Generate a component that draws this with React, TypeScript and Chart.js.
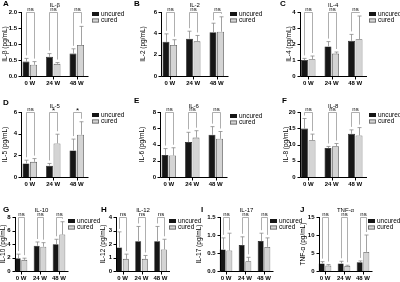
import React, { useEffect, useRef } from 'react';
import { Chart, registerables } from 'chart.js';

Chart.register(...registerables);

const FONT = '"Liberation Sans", Arial, sans-serif';

const weeks = ['0 W', '24 W', '48 W'];
const seriesNames = ['uncured', 'cured'];

// A IL-β
const ilbUncured = [0.45, 0.6, 0.7];
const ilbUncuredSd = [0.1, 0.1, 0.15];
const ilbCured = [0.35, 0.38, 0.97];
const ilbCuredSd = [0.1, 0.04, 0.58];
const ilbSig = ['ns', 'ns', 'ns'];
// B IL-2
const il2Uncured = [3.2, 3.5, 4.1];
const il2UncuredSd = [0.75, 0.7, 0.85];
const il2Cured = [2.9, 3.25, 4.15];
const il2CuredSd = [0.5, 0.55, 1.4];
const il2Sig = ['ns', 'ns', 'ns'];
// C IL-4
const il4Uncured = [1.0, 1.85, 2.2];
const il4UncuredSd = [0.1, 0.3, 0.4];
const il4Cured = [1.05, 1.4, 2.3];
const il4CuredSd = [0.2, 0.1, 1.45];
const il4Sig = ['ns', 'ns', 'ns'];
// D IL-5
const il5Uncured = [1.25, 1.05, 2.45];
const il5UncuredSd = [0.3, 0.2, 1.05];
const il5Cured = [1.4, 3.1, 3.9];
const il5CuredSd = [0.3, 0.85, 1.2];
const il5Sig = ['ns', '*', '*'];
// E IL-6
const il6Uncured = [2.7, 4.3, 5.2];
const il6UncuredSd = [0.8, 1.2, 1.0];
const il6Cured = [2.65, 4.85, 4.7];
const il6CuredSd = [0.95, 0.85, 0.9];
const il6Sig = ['ns', 'ns', 'ns'];
// F IL-8
const il8Uncured = [14.9, 8.9, 13.3];
const il8UncuredSd = [3.1, 0.5, 1.2];
const il8Cured = [11.3, 9.5, 12.8];
const il8CuredSd = [1.9, 0.8, 2.4];
const il8Sig = ['ns', 'ns', 'ns'];
// G IL-10
const il10Uncured = [1.9, 3.75, 3.95];
const il10UncuredSd = [0.6, 0.55, 0.75];
const il10Cured = [1.65, 3.6, 5.4];
const il10CuredSd = [0.25, 0.6, 1.9];
const il10Sig = ['ns', 'ns', 'ns'];
// H IL-12
const il12Uncured = [1.75, 2.2, 2.2];
const il12UncuredSd = [1.15, 1.1, 1.1];
const il12Cured = [0.9, 0.9, 1.6];
const il12CuredSd = [0.35, 0.25, 0.75];
const il12Sig = ['ns', 'ns', 'ns'];
// I IL-17
const il17Uncured = [0.6, 0.72, 0.83];
const il17UncuredSd = [0.32, 0.23, 0.22];
const il17Cured = [0.57, 0.27, 0.67];
const il17CuredSd = [0.48, 0.11, 0.25];
const il17Sig = ['ns', 'ns', 'ns'];
// J TNF-α
const tnfUncured = [2.1, 2.1, 2.4];
const tnfUncuredSd = [0.5, 0.6, 0.4];
const tnfCured = [1.5, 1.4, 5.3];
const tnfCuredSd = [0.3, 0.2, 4.7];
const tnfSig = ['ns', 'ns', 'ns'];

const panels = [
  { letter: 'A', title: 'IL-β', yTitle: 'IL-β (pg/mL)', max: 2, step: 0.5, dec: 1, u: ilbUncured, uSd: ilbUncuredSd, c: ilbCured, cSd: ilbCuredSd, sig: ilbSig },
  { letter: 'B', title: 'IL-2', yTitle: 'IL-2 (pg/mL)', max: 6, step: 2, dec: 0, u: il2Uncured, uSd: il2UncuredSd, c: il2Cured, cSd: il2CuredSd, sig: il2Sig },
  { letter: 'C', title: 'IL-4', yTitle: 'IL-4 (pg/mL)', max: 4, step: 1, dec: 0, u: il4Uncured, uSd: il4UncuredSd, c: il4Cured, cSd: il4CuredSd, sig: il4Sig },
  { letter: 'D', title: 'IL-5', yTitle: 'IL-5 (pg/mL)', max: 6, step: 2, dec: 0, u: il5Uncured, uSd: il5UncuredSd, c: il5Cured, cSd: il5CuredSd, sig: il5Sig },
  { letter: 'E', title: 'IL-6', yTitle: 'IL-6 (pg/mL)', max: 8, step: 2, dec: 0, u: il6Uncured, uSd: il6UncuredSd, c: il6Cured, cSd: il6CuredSd, sig: il6Sig },
  { letter: 'F', title: 'IL-8', yTitle: 'IL-8 (pg/mL)', max: 20, step: 5, dec: 0, u: il8Uncured, uSd: il8UncuredSd, c: il8Cured, cSd: il8CuredSd, sig: il8Sig },
  { letter: 'G', title: 'IL-10', yTitle: 'IL-10 (pg/mL)', max: 8, step: 2, dec: 0, u: il10Uncured, uSd: il10UncuredSd, c: il10Cured, cSd: il10CuredSd, sig: il10Sig },
  { letter: 'H', title: 'IL-12', yTitle: 'IL-12 (pg/mL)', max: 4, step: 1, dec: 0, u: il12Uncured, uSd: il12UncuredSd, c: il12Cured, cSd: il12CuredSd, sig: il12Sig },
  { letter: 'I', title: 'IL-17', yTitle: 'IL-17 (pg/mL)', max: 1.5, step: 0.5, dec: 1, u: il17Uncured, uSd: il17UncuredSd, c: il17Cured, cSd: il17CuredSd, sig: il17Sig },
  { letter: 'J', title: 'TNF-α', yTitle: 'TNF-α (pg/mL)', max: 15, step: 5, dec: 0, u: tnfUncured, uSd: tnfUncuredSd, c: tnfCured, cSd: tnfCuredSd, sig: tnfSig },
];

// layout (absolute page px): canvas box, plot area [l,t,r,b], decorations
const layouts = [
  { box: [0, 0, 140, 95], area: [18, 12, 88.5, 76], yTitleX: 5, letter: [3, 4], titleY: 5, legend: [92, 14], cp: 0.64, bp: 0.92 },
  { box: [130, 0, 142, 95], area: [158, 12, 228.5, 76], yTitleX: 143, letter: [134, 4], titleY: 5, legend: [230, 14], cp: 0.64, bp: 0.92 },
  { box: [262, 0, 138, 95], area: [296.5, 12, 367, 76], yTitleX: 289, letter: [280, 4], titleY: 5, legend: [369, 14], cp: 0.64, bp: 0.92 },
  { box: [0, 95, 140, 97], area: [18, 112, 88.5, 177], yTitleX: 5, letter: [3, 103], titleY: 106, legend: [92, 115], cp: 0.64, bp: 0.92 },
  { box: [130, 95, 142, 97], area: [157, 112, 227.5, 177], yTitleX: 142, letter: [134, 101], titleY: 106, legend: [230, 116], cp: 0.64, bp: 0.92 },
  { box: [262, 95, 138, 97], area: [296.5, 112, 367, 177], yTitleX: 286, letter: [282, 101], titleY: 106, legend: [369, 115], cp: 0.64, bp: 0.92 },
  { box: [0, 192, 108, 90], area: [11.5, 217, 68.5, 271], yTitleX: 3, letter: [3, 210], titleY: 210, legend: [68, 221], cp: 0.7, bp: 0.9 },
  { box: [98, 192, 108, 90], area: [113, 217, 170, 271], yTitleX: 103, letter: [101, 210], titleY: 210, legend: [169, 221], cp: 0.7, bp: 0.9 },
  { box: [196, 192, 109, 90], area: [216.5, 217, 273.5, 271], yTitleX: 199, letter: [201, 210], titleY: 210, legend: [270, 221], cp: 0.7, bp: 0.9 },
  { box: [295, 192, 105, 90], area: [315.5, 217, 372.5, 271], yTitleX: 303, letter: [300, 210], titleY: 210, legend: [368, 221], cp: 0.7, bp: 0.9 },
];

const DARK = '#161616';
const LIGHT = '#d4d4d4';
const LIGHT_EDGE = '#5c5c5c';
const GREY = '#8a8a8a';

function px(v: number) {
  return Math.round(v) + 0.5;
}

function makeDecor(p: any, lay: any) {
  return {
    id: 'decor' + p.letter,
    afterDraw(chart: any) {
      const ctx = chart.ctx;
      const ox = lay.box[0];
      const oy = lay.box[1];
      const ca = chart.chartArea;
      const ys = chart.scales.y;
      const xs = chart.scales.x;
      const ax = px(ca.left + 3);
      const bottom = px(ca.bottom);
      ctx.save();

      // axes
      ctx.strokeStyle = '#000';
      ctx.lineWidth = 1;
      ctx.beginPath();
      ctx.moveTo(ax, ca.top);
      ctx.lineTo(ax, bottom);
      ctx.lineTo(ca.right, bottom);
      ys.ticks.forEach((t: any) => {
        const y = px(ys.getPixelForValue(t.value));
        ctx.moveTo(ax - 3, y);
        ctx.lineTo(ax, y);
      });
      weeks.forEach((_, i) => {
        const x = px(xs.getPixelForValue(i));
        ctx.moveTo(x, bottom);
        ctx.lineTo(x, bottom + 3);
      });
      ctx.stroke();

      // error bars
      const tops: number[][] = [[], []];
      ctx.strokeStyle = GREY;
      ctx.lineWidth = 0.8;
      ctx.beginPath();
      [0, 1].forEach((di) => {
        const meta = chart.getDatasetMeta(di);
        const vals = di === 0 ? p.u : p.c;
        const sds = di === 0 ? p.uSd : p.cSd;
        meta.data.forEach((bar: any, j: number) => {
          const x = px(bar.x);
          const yTop = ys.getPixelForValue(vals[j] + sds[j]);
          ctx.moveTo(x, bar.y);
          ctx.lineTo(x, yTop);
          ctx.moveTo(x - 2, yTop);
          ctx.lineTo(x + 2, yTop);
          tops[di][j] = yTop;
        });
      });
      ctx.stroke();

      // significance brackets
      const m0 = chart.getDatasetMeta(0);
      const m1 = chart.getDatasetMeta(1);
      const top = px(ca.top);
      ctx.strokeStyle = '#9a9a9a';
      ctx.lineWidth = 0.8;
      ctx.fillStyle = '#000';
      ctx.textAlign = 'center';
      ctx.textBaseline = 'bottom';
      weeks.forEach((_, j) => {
        const x0 = px(m0.data[j].x);
        const x1 = px(m1.data[j].x);
        ctx.beginPath();
        ctx.moveTo(x0, tops[0][j] - 3);
        ctx.lineTo(x0, top);
        ctx.lineTo(x1, top);
        ctx.lineTo(x1, tops[1][j] - 3);
        ctx.stroke();
        const s = p.sig[j];
        ctx.font = (s === '*' ? '8px ' : '6px ') + FONT;
        ctx.fillText(s, (x0 + x1) / 2, top - (s === '*' ? -2 : 0.5));
      });

      // title
      ctx.fillStyle = '#000';
      ctx.textBaseline = 'middle';
      ctx.textAlign = 'center';
      ctx.font = '6px ' + FONT;
      ctx.fillText(p.title, (ca.left + ca.right) / 2 + 1.5, lay.titleY - oy);

      // panel letter
      ctx.textAlign = 'left';
      ctx.font = 'bold 8px ' + FONT;
      ctx.fillText(p.letter, lay.letter[0] - ox, lay.letter[1] - oy);

      // y title
      ctx.save();
      ctx.translate(lay.yTitleX - ox, (ca.top + ca.bottom) / 2);
      ctx.rotate(-Math.PI / 2);
      ctx.textAlign = 'center';
      ctx.font = '6.5px ' + FONT;
      ctx.fillText(p.yTitle, 0, 0);
      ctx.restore();

      // legend
      const lx = lay.legend[0] - ox;
      const ly = lay.legend[1] - oy;
      ctx.font = '6.5px ' + FONT;
      ctx.textAlign = 'left';
      seriesNames.forEach((name, i) => {
        const y = ly + i * 6.5;
        if (i === 0) {
          ctx.fillStyle = DARK;
          ctx.fillRect(lx, y - 2, 7, 4);
        } else {
          ctx.fillStyle = LIGHT;
          ctx.fillRect(lx, y - 2, 7, 4);
          ctx.strokeStyle = LIGHT_EDGE;
          ctx.lineWidth = 0.8;
          ctx.strokeRect(lx + 0.4, y - 1.6, 6.2, 3.2);
        }
        ctx.fillStyle = '#000';
        ctx.fillText(name, lx + 9, y);
      });

      ctx.restore();
    },
  };
}

function Panel({ p, lay }: { p: any; lay: any }) {
  const ref = useRef<HTMLCanvasElement | null>(null);
  useEffect(() => {
    const canvas = ref.current;
    if (!canvas) return;
    const [bx, by, bw, bh] = lay.box;
    const [l, t, r, b] = lay.area;
    const chart = new Chart(canvas, {
      type: 'bar',
      data: {
        labels: weeks,
        datasets: [
          { label: seriesNames[0], data: p.u, backgroundColor: DARK, borderColor: DARK, borderWidth: 0.6, categoryPercentage: lay.cp, barPercentage: lay.bp },
          { label: seriesNames[1], data: p.c, backgroundColor: LIGHT, borderColor: LIGHT_EDGE, borderWidth: 0.8, categoryPercentage: lay.cp, barPercentage: lay.bp },
        ],
      },
      options: {
        animation: false,
        responsive: false,
        devicePixelRatio: 1,
        layout: { padding: { top: t - by, right: bx + bw - r, left: 0, bottom: 0 } },
        plugins: { legend: { display: false }, tooltip: { enabled: false }, title: { display: false } },
        scales: {
          x: {
            grid: { display: false, drawTicks: false },
            border: { display: false },
            ticks: { color: '#000', font: { family: FONT, size: 6, weight: 'bold' }, padding: 4, maxRotation: 0, autoSkip: false },
            afterFit: (s: any) => { s.height = by + bh - b; },
          },
          y: {
            min: 0,
            max: p.max,
            grid: { display: false, drawTicks: false },
            border: { display: false },
            ticks: {
              stepSize: p.step,
              color: '#000',
              font: { family: FONT, size: 6, weight: 'bold' },
              padding: 1,
              callback: (v: any) => Number(v).toFixed(p.dec),
            },
            afterFit: (s: any) => { s.width = l - bx; },
          },
        },
      } as any,
      plugins: [makeDecor(p, lay)],
    });
    return () => chart.destroy();
  }, [p, lay]);
  return (
    <canvas
      ref={ref}
      width={lay.box[2]}
      height={lay.box[3]}
      style={{ position: 'absolute', left: lay.box[0], top: lay.box[1], width: lay.box[2], height: lay.box[3] }}
    />
  );
}

export default function App() {
  return (
    <div style={{ position: 'absolute', left: 0, top: 0, width: 400, height: 282, background: '#fff', overflow: 'hidden' }}>
      {panels.map((p, i) => (
        <Panel key={p.letter} p={p} lay={layouts[i]} />
      ))}
    </div>
  );
}
